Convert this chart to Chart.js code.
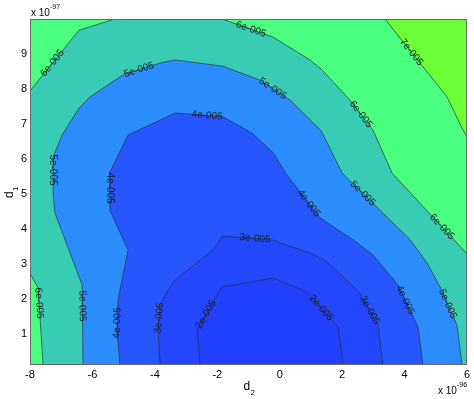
<!DOCTYPE html>
<html>
<head>
<meta charset="utf-8">
<script src="https://cdn.jsdelivr.net/npm/chart.js@4.4.1/dist/chart.umd.min.js"></script>
<style>
  html, body { margin: 0; padding: 0; background: #fff; }
</style>
</head>
<body>
<canvas id="chart" width="474" height="399"></canvas>
<script>
// x is d2 in units of 1e-96, y is d1 in units of 1e-97
const xMin = -8, xMax = 6;
const yMin = 0.1, yMax = 10;
const xTicks = [-8, -6, -4, -2, 0, 2, 4, 6];
const yTicks = [1, 2, 3, 4, 5, 6, 7, 8, 9];

// contour lines, [d2, d1] pairs
const c2 = [[-2.55, 0.1], [-2.65, 1.10], [-1.85, 2.33], [-0.21, 2.59], [0.87, 2.19], [1.87, 1.19], [2.03, 0.1]];
const c3 = [[-3.83, 0.1], [-3.90, 1.10], [-3.83, 1.82], [-3.61, 2.19], [-3.35, 2.53], [-2.14, 3.39], [-1.82, 3.79],
            [-0.25, 3.68], [0.97, 3.30], [1.45, 3.10], [2.57, 2.16], [3.15, 1.24], [3.31, 0.1]];
const c4 = [[-5.12, 0.1], [-5.21, 1.10], [-5.18, 1.96], [-4.86, 3.39], [-5.44, 4.53], [-5.44, 5.62], [-4.86, 6.68],
            [-3.35, 7.31], [-1.82, 7.20], [-0.89, 6.74], [-0.21, 6.17], [0.23, 5.54], [1.29, 4.31], [2.35, 3.68],
            [2.99, 3.25], [3.79, 2.39], [4.43, 1.19], [4.59, 0.1]];
const c5 = [[-6.30, 0.1], [-6.33, 2.39], [-7.20, 4.45], [-7.26, 5.02], [-7.26, 6.05], [-6.97, 6.68], [-6.43, 7.45],
            [-6.08, 7.77], [-5.02, 8.40], [-3.83, 8.74], [-3.35, 8.83], [-1.82, 8.65], [-0.63, 8.25], [0.33, 7.68],
            [1.33, 6.80], [2.00, 5.59], [4.18, 3.68], [4.72, 3.02], [5.14, 2.33], [5.68, 1.24], [5.84, 0.1]];
const c6TopLeft = [[-8, 7.94], [-6.43, 9.68], [-5.28, 10]];
const c6Right = [[-1.85, 10], [-0.21, 9.48], [0.97, 8.83], [1.36, 8.54], [2.25, 7.68], [2.99, 6.82], [3.60, 5.59], [6, 3.28]];
const c6BottomLeft = [[-8, 2.73], [-7.74, 2.30], [-7.68, 1.47], [-7.58, 0.1]];
const c7 = [[3.37, 10], [5.36, 7.77], [5.84, 6.88], [6, 6.62]];

const contours = { c2, c3, c4, c5, c6TopLeft, c6Right, c6BottomLeft, c7 };

// contour labels: text, which line, rough spot on it
const contourLabels = [
  ["6e-005", "c6TopLeft", -7.20, 8.68],
  ["5e-005", "c5", -4.51, 8.54],
  ["6e-005", "c6Right", -0.92, 9.71],
  ["5e-005", "c5", -0.21, 8.03],
  ["4e-005", "c4", -2.33, 7.20],
  ["7e-005", "c7", 4.30, 9.11],
  ["6e-005", "c6Right", 2.61, 7.28],
  ["5e-005", "c5", 2.61, 4.96],
  ["6e-005", "c6Right", 5.23, 4.08],
  ["5e-005", "c5", -7.20, 5.68],
  ["4e-005", "c4", -5.44, 5.16],
  ["4e-005", "c4", 0.78, 4.62],
  ["3e-005", "c3", -0.79, 3.73],
  ["5e-005", "c5", -6.33, 1.79],
  ["4e-005", "c4", -5.15, 1.30],
  ["6e-005", "c6BottomLeft", -7.68, 1.87],
  ["3e-005", "c3", -3.80, 1.44],
  ["2e-005", "c2", -2.33, 1.53],
  ["2e-005", "c2", 1.36, 1.76],
  ["3e-005", "c3", 2.89, 1.67],
  ["4e-005", "c4", 4.02, 1.96],
  ["5e-005", "c5", 5.39, 1.85]
];

const toPoints = arr => arr.map(([x, y]) => ({ x, y }));

// filled bands, bottom one first
const bands = [
  { color: "rgb(56,204,180)", pts: [[xMin, yMin], [xMin, yMax], [xMax, yMax], [xMax, yMin]], edge: false },
  { color: "rgb(74,255,128)", pts: [[xMin, yMax], ...c6TopLeft] },
  { color: "rgb(74,255,128)", pts: [...c6Right, [xMax, yMax]] },
  { color: "rgb(74,255,128)", pts: [[xMin, yMin], ...c6BottomLeft] },
  { color: "rgb(108,255,56)", pts: [...c7, [xMax, yMax]] },
  { color: "rgb(43,141,255)", pts: c5 },
  { color: "rgb(38,86,255)", pts: c4 },
  { color: "rgb(35,70,255)", pts: c3 },
  { color: "rgb(33,64,255)", pts: c2 }
];

const datasets = bands.map((b, i) => ({
  data: toPoints(b.pts),
  backgroundColor: b.color,
  borderColor: "rgba(45,45,45,0.85)",
  borderWidth: b.edge === false ? 0 : 0.8,
  fill: "shape",
  pointRadius: 0,
  tension: 0,
  order: bands.length - i
}));

const FONT = '"Liberation Sans", Arial, sans-serif';

const labelPlugin = {
  id: "contourLabels",
  afterDatasetsDraw(chart) {
    const { ctx, chartArea } = chart;
    const xs = chart.scales.x, ys = chart.scales.y;
    ctx.save();
    ctx.font = "10px " + FONT;
    ctx.fillStyle = "#1c1c1c";
    ctx.textAlign = "center";
    ctx.textBaseline = "middle";
    contourLabels.forEach(([text, name, lx, ly]) => {
      const pts = contours[name].map(([a, b]) => [xs.getPixelForValue(a), ys.getPixelForValue(b)]);
      const px = xs.getPixelForValue(lx), py = ys.getPixelForValue(ly);
      let best = null;
      for (let i = 0; i < pts.length - 1; i++) {
        const [x1, y1] = pts[i], [x2, y2] = pts[i + 1];
        const dx = x2 - x1, dy = y2 - y1;
        let t = ((px - x1) * dx + (py - y1) * dy) / (dx * dx + dy * dy);
        t = Math.max(0, Math.min(1, t));
        const qx = x1 + t * dx, qy = y1 + t * dy;
        const d = (qx - px) ** 2 + (qy - py) ** 2;
        if (!best || d < best.d) best = { d, qx, qy, ang: Math.atan2(dy, dx) };
      }
      let a = best.ang;
      if (a > Math.PI / 2) a -= Math.PI;
      if (a <= -Math.PI / 2) a += Math.PI;
      ctx.save();
      ctx.translate(best.qx, best.qy);
      ctx.rotate(a);
      ctx.fillText(text, 0, 0);
      ctx.restore();
    });

    // axes box
    ctx.strokeStyle = "#6a6a6a";
    ctx.lineWidth = 1;
    ctx.strokeRect(chartArea.left + 0.5, chartArea.top + 0.5,
      chartArea.right - chartArea.left - 1, chartArea.bottom - chartArea.top - 1);
    ctx.restore();
  },
  afterDraw(chart) {
    const { ctx, chartArea } = chart;
    ctx.save();
    ctx.fillStyle = "#000";
    ctx.textBaseline = "alphabetic";
    ctx.textAlign = "left";

    // d2 under the x axis
    const cx = (chartArea.left + chartArea.right) / 2;
    ctx.font = "12px " + FONT;
    ctx.fillText("d", cx - 5, 390);
    ctx.font = "8px " + FONT;
    ctx.fillText("2", cx + 2, 395);

    // d1 along the y axis
    ctx.save();
    ctx.translate(13, (chartArea.top + chartArea.bottom) / 2 + 6);
    ctx.rotate(-Math.PI / 2);
    ctx.font = "12px " + FONT;
    ctx.fillText("d", 0, 0);
    ctx.font = "8px " + FONT;
    ctx.fillText("1", 7, 5);
    ctx.restore();

    // exponents
    ctx.font = "10px " + FONT;
    ctx.fillText("x 10", chartArea.left + 1, 16);
    ctx.fillText("x 10", 438, 394);
    ctx.font = "7px " + FONT;
    ctx.fillText("-97", chartArea.left + 20, 9);
    ctx.fillText("-96", 457, 387);
    ctx.restore();
  }
};

new Chart(document.getElementById("chart"), {
  type: "line",
  data: { datasets },
  options: {
    responsive: false,
    animation: false,
    events: [],
    layout: { padding: { top: 19, right: 7, left: 0, bottom: 0 } },
    plugins: { legend: { display: false }, tooltip: { enabled: false } },
    scales: {
      x: {
        type: "linear",
        min: xMin,
        max: xMax,
        grid: { display: false, drawTicks: false },
        border: { display: false },
        ticks: { color: "#000", font: { family: FONT, size: 11 }, padding: 3 },
        afterBuildTicks: s => { s.ticks = xTicks.map(v => ({ value: v })); },
        afterFit: s => { s.height = 34; }
      },
      y: {
        type: "linear",
        min: yMin,
        max: yMax,
        grid: { display: false, drawTicks: false },
        border: { display: false },
        ticks: { color: "#000", font: { family: FONT, size: 11 }, padding: 3 },
        afterBuildTicks: s => { s.ticks = yTicks.map(v => ({ value: v })); },
        afterFit: s => { s.width = 30; }
      }
    }
  },
  plugins: [labelPlugin]
});
</script>
</body>
</html>
